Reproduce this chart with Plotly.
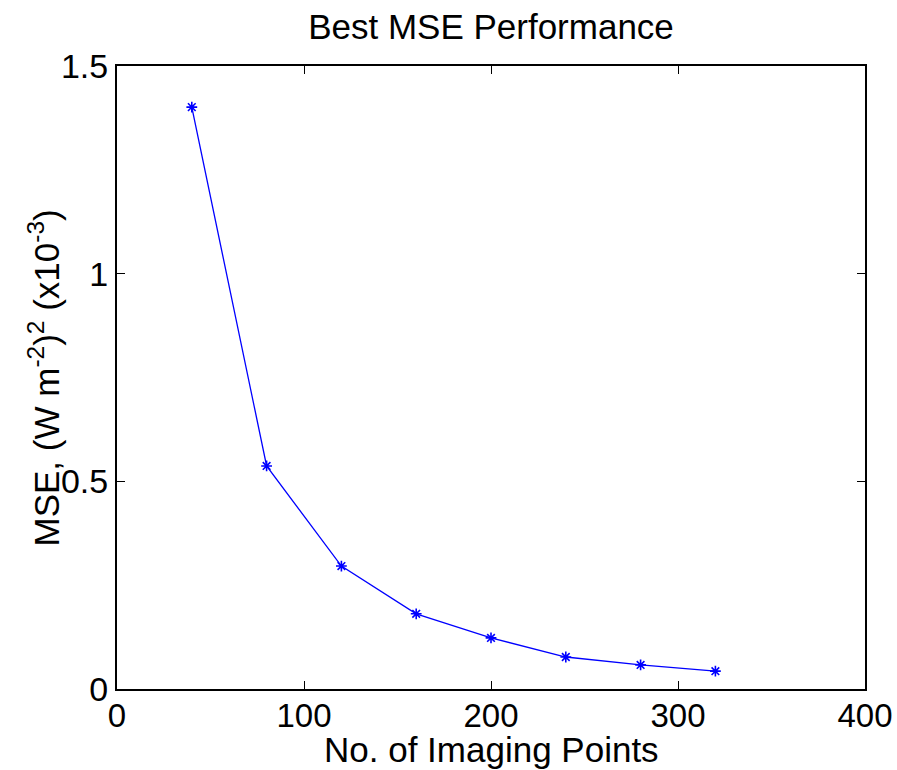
import plotly.graph_objects as go

# Data
imaging_points = [40, 80, 120, 160, 200, 240, 280, 320]
mse_values = [1.401, 0.537, 0.296, 0.181, 0.123, 0.077, 0.058, 0.043]

x_ticks = [0, 100, 200, 300, 400]
y_ticks = [0, 0.5, 1, 1.5]
y_tick_labels = ["0", "0.5", "1", "1.5"]

x_title = "No. of Imaging Points"
y_title = "MSE, (W m<sup>-2</sup>)<sup>2</sup> (x10<sup>-3</sup>)"
chart_title = "Best MSE Performance"

FONT = "Liberation Sans, Arial, Helvetica, sans-serif"

fig = go.Figure()
fig.add_trace(go.Scatter(
    x=imaging_points,
    y=mse_values,
    mode="lines+markers",
    line=dict(color="#0000ff", width=1.3),
    marker=dict(symbol="asterisk-open", size=9, color="#0000ff",
                line=dict(color="#0000ff", width=1.6)),
    showlegend=False,
))

axis_common = dict(
    showline=True, linecolor="black", linewidth=2, mirror="ticks",
    ticks="inside", ticklen=8, tickwidth=1.2, tickcolor="black",
    showgrid=False, zeroline=False, automargin=False,
)

fig.update_layout(
    width=897, height=770,
    paper_bgcolor="white", plot_bgcolor="white",
    margin=dict(l=117, r=32, t=66, b=81, autoexpand=False),
    title=dict(text=chart_title, xref="paper", x=0.5, xanchor="center",
               y=0.965, yanchor="middle",
               font=dict(family=FONT, size=35, color="black")),
    xaxis=dict(range=[0, 400], tickvals=x_ticks,
               tickfont=dict(family=FONT, size=33, color="black"),
               ticklabelstandoff=-4,
               **axis_common),
    yaxis=dict(range=[0, 1.5], tickvals=y_ticks, ticktext=y_tick_labels,
               tickfont=dict(family=FONT, size=34, color="black"),
               **axis_common),
    annotations=[
        dict(text=x_title, xref="paper", yref="paper", x=0.5, y=-0.131,
             xanchor="center", yanchor="bottom", showarrow=False,
             font=dict(family=FONT, size=35, color="black")),
        dict(text=y_title, xref="paper", yref="paper", x=-0.0976, y=0.5,
             xanchor="center", yanchor="middle", textangle=-90, showarrow=False,
             font=dict(family=FONT, size=35, color="black")),
    ],
)

fig.write_html("out.html")
